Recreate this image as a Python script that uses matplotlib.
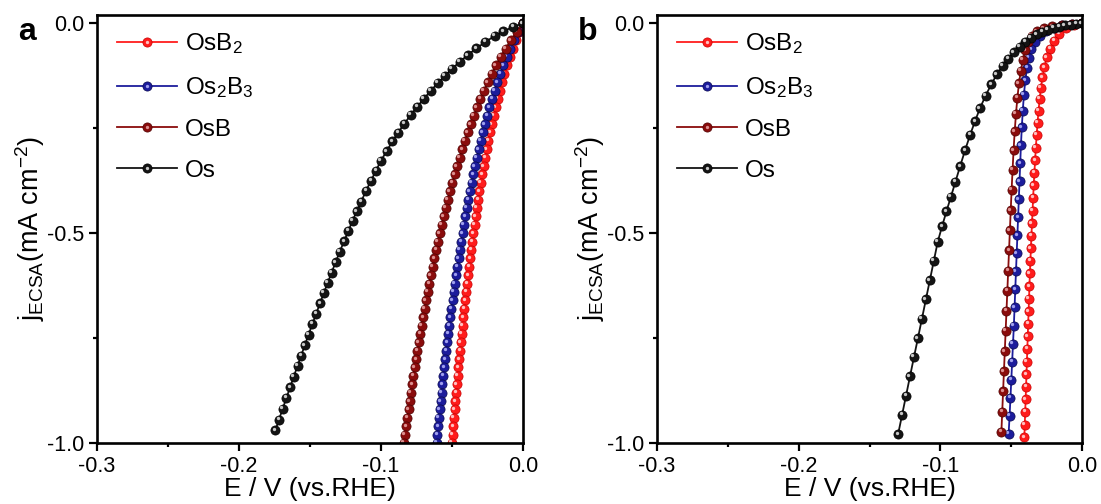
import matplotlib
matplotlib.use("Agg")
import matplotlib.pyplot as plt
import matplotlib.transforms as mtransforms
from matplotlib.legend_handler import HandlerTuple
from matplotlib.ticker import MultipleLocator, FormatStrFormatter

plt.rcParams["font.family"] = ["Liberation Sans", "DejaVu Sans"]
plt.rcParams["mathtext.fontset"] = "custom"
plt.rcParams["mathtext.rm"] = "Liberation Sans"
plt.rcParams["mathtext.it"] = "Liberation Sans:italic"
plt.rcParams["axes.unicode_minus"] = False

LABELS = [r"OsB$_\mathrm{2}$", r"Os$_\mathrm{2}$B$_\mathrm{3}$", "OsB", "Os"]
COLORS = ["#ff1c1c", "#1c1c9c", "#8a0c0c", "#141414"]
EDGES = ["#c80000", "#08084e", "#4e0000", "#000000"]
GLINTS = ["#ffc0c0", "#a0a0ee", "#dc9090", "#c8c8c8"]

# ---- panel a: current density (shared j grid for the three borides) ----
J_A = [0.00, -0.02, -0.04, -0.06, -0.08, -0.10, -0.12, -0.14, -0.16, -0.18,
       -0.20, -0.22, -0.24, -0.26, -0.28, -0.30, -0.32, -0.34, -0.36, -0.38,
       -0.40, -0.42, -0.44, -0.46, -0.48, -0.50, -0.52, -0.54, -0.56, -0.58,
       -0.60, -0.62, -0.64, -0.66, -0.68, -0.70, -0.72, -0.74, -0.76, -0.78,
       -0.80, -0.82, -0.84, -0.86, -0.88, -0.90, -0.92, -0.94, -0.96, -0.98,
       -1.00]
E_A_OSB2 = [0.0, -0.0027, -0.0051, -0.0073, -0.0094, -0.0113, -0.0131, -0.0148,
            -0.0164, -0.0179, -0.0193, -0.0207, -0.0220, -0.0232, -0.0244, -0.0256,
            -0.0267, -0.0277, -0.0287, -0.0297, -0.0307, -0.0316, -0.0325, -0.0333,
            -0.0341, -0.0350, -0.0357, -0.0365, -0.0373, -0.0380, -0.0387, -0.0394,
            -0.0400, -0.0407, -0.0413, -0.0420, -0.0426, -0.0432, -0.0438, -0.0443,
            -0.0449, -0.0455, -0.0460, -0.0465, -0.0471, -0.0476, -0.0481, -0.0486,
            -0.0491, -0.0495, -0.0500]
E_A_OS2B3 = [0.0, -0.0032, -0.0062, -0.0089, -0.0114, -0.0138, -0.0160, -0.0180,
             -0.0200, -0.0218, -0.0236, -0.0252, -0.0268, -0.0283, -0.0298, -0.0312,
             -0.0325, -0.0338, -0.0350, -0.0362, -0.0374, -0.0385, -0.0396, -0.0406,
             -0.0416, -0.0426, -0.0436, -0.0445, -0.0454, -0.0463, -0.0471, -0.0480,
             -0.0488, -0.0496, -0.0504, -0.0511, -0.0519, -0.0526, -0.0533, -0.0540,
             -0.0547, -0.0554, -0.0561, -0.0567, -0.0573, -0.0580, -0.0586, -0.0592,
             -0.0598, -0.0604, -0.0609]
E_A_OSB = [0.0, -0.0045, -0.0085, -0.0123, -0.0158, -0.0190, -0.0220, -0.0248,
           -0.0275, -0.0300, -0.0324, -0.0347, -0.0369, -0.0390, -0.0410, -0.0429,
           -0.0447, -0.0465, -0.0482, -0.0498, -0.0514, -0.0530, -0.0544, -0.0559,
           -0.0573, -0.0586, -0.0600, -0.0612, -0.0625, -0.0637, -0.0649, -0.0660,
           -0.0672, -0.0683, -0.0693, -0.0704, -0.0714, -0.0724, -0.0734, -0.0744,
           -0.0753, -0.0763, -0.0772, -0.0781, -0.0789, -0.0798, -0.0806, -0.0815,
           -0.0823, -0.0831, -0.0839]
E_A_OS = [0.0, -0.007, -0.014, -0.020, -0.0265, -0.033, -0.039, -0.0445, -0.050,
          -0.055, -0.060, -0.065, -0.070, -0.0745, -0.079, -0.0835, -0.088, -0.092,
          -0.096, -0.100, -0.1035, -0.107, -0.1105, -0.114, -0.117, -0.120, -0.123,
          -0.126, -0.129, -0.132, -0.1348, -0.1375, -0.1402, -0.1429, -0.1456,
          -0.1483, -0.151, -0.1536, -0.1562, -0.1588, -0.1614, -0.164, -0.1666,
          -0.1692, -0.1718, -0.1744]
J_A_OS = [0.0, -0.0084, -0.0192, -0.030, -0.0443, -0.0598, -0.0754, -0.0915, -0.108,
          -0.125, -0.142, -0.161, -0.180, -0.1989, -0.2178, -0.2388, -0.2604, -0.2814,
          -0.3042, -0.327, -0.3508, -0.3746, -0.3988, -0.425, -0.4475, -0.470,
          -0.4946, -0.5192, -0.5438, -0.5696, -0.5942, -0.618, -0.6418, -0.6667,
          -0.6915, -0.7164, -0.7416, -0.7666, -0.7915, -0.8165, -0.8417, -0.8672,
          -0.8927, -0.9182, -0.944, -0.970]

# ---- panel b ----
E_B_OSB2 = [0.0, -0.006, -0.0115, -0.016, -0.0195, -0.0225, -0.0248, -0.0265,
            -0.0279, -0.0290, -0.0299, -0.0307, -0.0314, -0.0320, -0.0326, -0.0331,
            -0.0336, -0.0341, -0.0345, -0.0349, -0.0353, -0.0357, -0.0361, -0.0364,
            -0.0368, -0.0371, -0.0374, -0.0377, -0.0380, -0.0383, -0.0386, -0.0389,
            -0.0392, -0.0395, -0.0398, -0.0401, -0.0404, -0.0407]
J_B_OSB2 = [0.0, -0.004, -0.012, -0.025, -0.041, -0.060, -0.081, -0.104, -0.128,
            -0.153, -0.180, -0.208, -0.237, -0.266, -0.296, -0.326, -0.356, -0.386,
            -0.416, -0.446, -0.476, -0.506, -0.536, -0.566, -0.596, -0.626, -0.656,
            -0.686, -0.716, -0.746, -0.776, -0.806, -0.836, -0.866, -0.896, -0.926,
            -0.956, -0.986]
E_B_OS2B3 = [0.0, -0.007, -0.014, -0.020, -0.0255, -0.0300, -0.0335, -0.0358,
             -0.0375, -0.0388, -0.0400, -0.0410, -0.0418, -0.0425, -0.0431, -0.0436,
             -0.0441, -0.0446, -0.0451, -0.0456, -0.0461, -0.0466, -0.0471, -0.0476,
             -0.0481, -0.0487, -0.0493, -0.0499, -0.0505, -0.0511, -0.0518]
J_B_OS2B3 = [0.0, -0.002, -0.005, -0.010, -0.018, -0.029, -0.044, -0.062, -0.082,
             -0.106, -0.135, -0.170, -0.208, -0.248, -0.290, -0.333, -0.376, -0.419,
             -0.462, -0.505, -0.548, -0.591, -0.634, -0.677, -0.720, -0.763, -0.806,
             -0.849, -0.892, -0.935, -0.978]
E_B_OSB = [0.0, -0.007, -0.014, -0.021, -0.027, -0.032, -0.0355, -0.038, -0.040,
           -0.0417, -0.0432, -0.0445, -0.0456, -0.0466, -0.0475, -0.0483, -0.0490,
           -0.0497, -0.0503, -0.0509, -0.0515, -0.0521, -0.0527, -0.0533, -0.0539,
           -0.0545, -0.0551, -0.0557, -0.0563, -0.0569]
J_B_OSB = [0.0, -0.002, -0.004, -0.007, -0.012, -0.019, -0.030, -0.045, -0.064,
           -0.087, -0.113, -0.143, -0.177, -0.215, -0.257, -0.302, -0.349, -0.397,
           -0.445, -0.493, -0.541, -0.589, -0.637, -0.685, -0.733, -0.781, -0.829,
           -0.877, -0.925, -0.973]
E_B_OS = [0.0, -0.004, -0.008, -0.012, -0.016, -0.020, -0.024, -0.028, -0.032,
          -0.036, -0.040, -0.044, -0.048, -0.052, -0.056, -0.060, -0.064, -0.068,
          -0.072, -0.0755, -0.079, -0.0825, -0.086, -0.0893, -0.0925, -0.0957,
          -0.0988, -0.1018, -0.1046, -0.1074, -0.1102, -0.1130, -0.1158, -0.1186,
          -0.1214, -0.1242, -0.1270, -0.1298]
J_B_OS = [0.0, -0.001, -0.003, -0.005, -0.008, -0.011, -0.015, -0.020, -0.026,
          -0.034, -0.044, -0.056, -0.069, -0.084, -0.101, -0.121, -0.145, -0.172,
          -0.202, -0.233, -0.266, -0.302, -0.340, -0.377, -0.413, -0.448, -0.484,
          -0.520, -0.566, -0.612, -0.658, -0.704, -0.750, -0.795, -0.841, -0.887,
          -0.933, -0.979]

PANEL_A = [(E_A_OSB2, J_A), (E_A_OS2B3, J_A), (E_A_OSB, J_A), (E_A_OS, J_A_OS)]
PANEL_B = [(E_B_OSB2, J_B_OSB2), (E_B_OS2B3, J_B_OS2B3),
           (E_B_OSB, J_B_OSB), (E_B_OS, J_B_OS)]


def draw_panel(fig, ax, curves, tag):
    # small offset glint on every ball, mimicking Origin's 3D spheres
    glint_shift = mtransforms.ScaledTranslation(-1.1 / 72, 1.1 / 72, fig.dpi_scale_trans)
    handles = []
    for (E, J), color, edge, glint in zip(curves, COLORS, EDGES, GLINTS):
        ball, = ax.plot(E, J, color=color, lw=1.3, marker="o", ms=6.6,
                        mfc=color, mec=edge, mew=0.5)
        shine, = ax.plot(E, J, ls="none", marker="o", ms=2.4, mfc=glint,
                         mec="none", transform=ax.transData + glint_shift)
        handles.append((ball, shine))

    ax.set_xlim(-0.3, 0.0)
    ax.set_ylim(-1.0, 0.02)
    ax.xaxis.set_major_locator(MultipleLocator(0.1))
    ax.xaxis.set_minor_locator(MultipleLocator(0.05))
    ax.yaxis.set_major_locator(MultipleLocator(0.5))
    ax.yaxis.set_minor_locator(MultipleLocator(0.25))
    ax.xaxis.set_major_formatter(FormatStrFormatter("%.1f"))
    ax.yaxis.set_major_formatter(FormatStrFormatter("%.1f"))
    ax.tick_params(which="major", direction="out", length=5.5, width=1.6,
                   labelsize=15.5, pad=3.5)
    ax.tick_params(axis="x", which="major", pad=3.5)
    ax.tick_params(which="minor", direction="out", length=3.2, width=1.6)
    for spine in ax.spines.values():
        spine.set_linewidth(1.9)

    ax.set_xlabel("E / V (vs.RHE)", fontsize=19)
    ax.set_ylabel(r"j$_\mathrm{ECSA}$(mA cm$^\mathrm{-2}$)", fontsize=19.5)
    ax.xaxis.set_label_coords(0.5, -0.079)
    ax.yaxis.set_label_coords(-0.118, 0.5)

    ax.legend(handles=handles, labels=LABELS, loc="upper left",
              bbox_to_anchor=(0.047, 0.962), frameon=False, fontsize=17.5,
              handlelength=2.45, handletextpad=0.33, labelspacing=0.78,
              borderpad=0.0, borderaxespad=0.0, numpoints=1,
              handler_map={tuple: HandlerTuple(ndivide=1)})

    fig.text(ax.get_position().x0 - 79 / 1101, 1 - 40 / 504, tag,
             fontsize=23, fontweight="bold", va="baseline")


fig = plt.figure(figsize=(11.01, 5.04), dpi=100)
ax_a = fig.add_axes([97 / 1101, 61 / 504, 426 / 1101, 428 / 504])
ax_b = fig.add_axes([657 / 1101, 61 / 504, 425 / 1101, 428 / 504])

draw_panel(fig, ax_a, PANEL_A, "a")
draw_panel(fig, ax_b, PANEL_B, "b")

fig.savefig("out.png", dpi=100)
